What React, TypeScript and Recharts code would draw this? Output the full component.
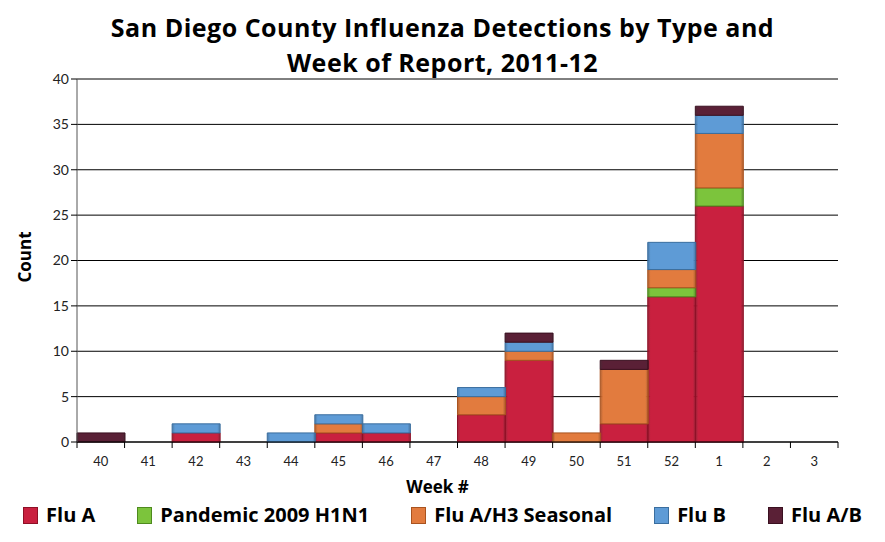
import React from 'react';
import { BarChart, Bar, XAxis, YAxis, CartesianGrid, Legend } from 'recharts';

const weeks = ['40', '41', '42', '43', '44', '45', '46', '47', '48', '49', '50', '51', '52', '1', '2', '3'];
const fluA = [0, 0, 1, 0, 0, 1, 1, 0, 3, 9, 0, 2, 16, 26, 0, 0];
const h1n1 = [0, 0, 0, 0, 0, 0, 0, 0, 0, 0, 0, 0, 1, 2, 0, 0];
const h3 = [0, 0, 0, 0, 0, 1, 0, 0, 2, 1, 1, 6, 2, 6, 0, 0];
const fluB = [0, 0, 1, 0, 1, 1, 1, 0, 1, 1, 0, 0, 3, 2, 0, 0];
const fluAB = [1, 0, 0, 0, 0, 0, 0, 0, 0, 1, 0, 1, 0, 1, 0, 0];
const yTicks = [0, 5, 10, 15, 20, 25, 30, 35, 40];

const seriesNames = ['Flu A', 'Pandemic 2009 H1N1', 'Flu A/H3 Seasonal', 'Flu B', 'Flu A/B'];
const seriesKeys = ['fluA', 'h1n1', 'h3', 'fluB', 'fluAB'];
const seriesColors = ['#C9203F', '#7CC43C', '#E27B3E', '#5E9BD6', '#5A2036'];
const seriesEdges = ['#8E1026', '#4E8A1E', '#A9531F', '#3A6E9F', '#3A1020'];

const data = weeks.map((w, i) => ({
  week: w,
  fluA: fluA[i] || null,
  h1n1: h1n1[i] || null,
  h3: h3[i] || null,
  fluB: fluB[i] || null,
  fluAB: fluAB[i] || null,
}));

const FONT = 'Lato, "Open Sans", sans-serif';
const BOLD_FONT = '"Open Sans", sans-serif';
const CHART_W = 885;
const CHART_H = 542;
const MARGIN = { top: 79, right: 47, bottom: 0, left: 0 };
const Y_W = 77;

const XTick = (props: any) => {
  const { x, y, payload, index } = props;
  const plotW = CHART_W - MARGIN.right - MARGIN.left - Y_W;
  const half = plotW / weeks.length / 2;
  return (
    <g>
      <line x1={x - half} x2={x - half} y1={y - 8} y2={y - 2} stroke="#000" strokeWidth={1} />
      {index === weeks.length - 1 && (
        <line x1={x + half} x2={x + half} y1={y - 8} y2={y - 2} stroke="#000" strokeWidth={1} />
      )}
      <text x={x} y={y + 16} textAnchor="middle" fontSize={13} fontFamily={FONT} fill="#222">
        {payload.value}
      </text>
    </g>
  );
};

const LegendContent = () => (
  <div
    style={{
      position: 'relative',
      top: 0,
      display: 'flex',
      justifyContent: 'center',
      gap: 42,
      fontFamily: BOLD_FONT,
      fontWeight: 700,
      fontSize: 20,
      lineHeight: '26px',
      color: '#000',
      whiteSpace: 'nowrap',
    }}
  >
    {seriesNames.map((n, i) => (
      <div key={n} style={{ display: 'flex', alignItems: 'center' }}>
        <span
          style={{
            display: 'inline-block',
            width: 13,
            height: 15,
            background: seriesColors[i],
            border: `1px solid ${seriesEdges[i]}`,
            marginRight: 8,
          }}
        />
        {n}
      </div>
    ))}
  </div>
);

export default function App() {
  return (
    <div style={{ position: 'absolute', left: 0, top: 0, width: CHART_W, height: CHART_H, background: '#fff' }}>
      <div
        style={{
          position: 'absolute',
          top: 10,
          left: 0,
          width: CHART_W,
          textAlign: 'center',
          fontFamily: BOLD_FONT,
          fontWeight: 700,
          fontSize: 25,
          letterSpacing: 0.5,
          lineHeight: '35px',
          color: '#000',
        }}
      >
        San Diego County Influenza Detections by Type and
        <br />
        Week of Report, 2011-12
      </div>
      <BarChart width={CHART_W} height={CHART_H} data={data} margin={MARGIN} barCategoryGap={0}>
        <defs>
          {seriesColors.map((c, i) => (
            <linearGradient key={i} id={`g${i}`} x1="0" y1="0" x2="1" y2="0">
              <stop offset="0%" stopColor={seriesEdges[i]} stopOpacity={0.9} />
              <stop offset="6%" stopColor={c} />
              <stop offset="94%" stopColor={c} />
              <stop offset="100%" stopColor={seriesEdges[i]} stopOpacity={0.9} />
            </linearGradient>
          ))}
        </defs>
        <CartesianGrid vertical={false} stroke="#000" strokeWidth={1} />
        <XAxis
          dataKey="week"
          height={60}
          tickLine={false}
          axisLine={{ stroke: '#000' }}
          tick={<XTick />}
          interval={0}
          label={{ value: 'Week #', position: 'insideTop', dx: -20, dy: 34, style: { fontFamily: BOLD_FONT, fontWeight: 700, fontSize: 17, fill: '#000' } }}
        />
        <YAxis
          width={Y_W}
          domain={[0, 40]}
          ticks={yTicks}
          interval={0}
          axisLine={{ stroke: '#555' }}
          tickLine={{ stroke: '#000' }}
          tickSize={6}
          tick={{ fontFamily: FONT, fontSize: 14, fill: '#222' }}
          label={{ value: 'Count', angle: -90, position: 'insideLeft', dx: 20, dy: 22, style: { fontFamily: BOLD_FONT, fontWeight: 700, fontSize: 17, fill: '#000' } }}
        />
        <Legend
          verticalAlign="bottom"
          height={40}
          wrapperStyle={{ left: 0, width: CHART_W }}
          content={<LegendContent />}
        />
        {seriesKeys.map((k, i) => (
          <Bar
            key={k}
            dataKey={k}
            name={seriesNames[i]}
            stackId="a"
            fill={`url(#g${i})`}
            stroke={seriesEdges[i]}
            strokeWidth={1}
            isAnimationActive={false}
          />
        ))}
      </BarChart>
    </div>
  );
}
